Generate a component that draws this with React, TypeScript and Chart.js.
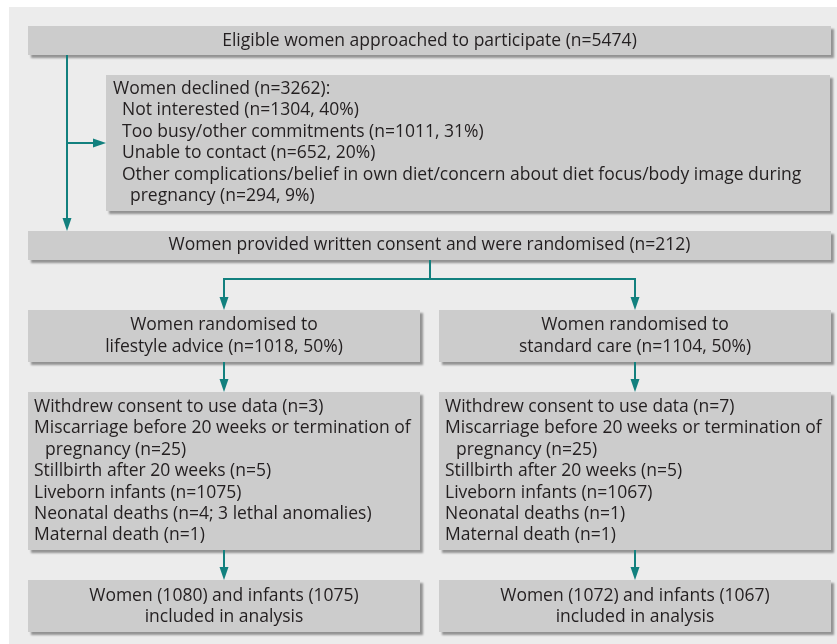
import React, { useEffect, useRef } from "react";
import { Chart, registerables } from "chart.js";

Chart.register(...registerables);

// ---------------- data ----------------
const approachedTotal = 5474;
const declinedTotal = 3262;
const declinedReasons = [
  "Not interested",
  "Too busy/other commitments",
  "Unable to contact",
  "Other complications/belief in own diet/concern about diet focus/body image during",
];
const declinedCounts = [1304, 1011, 652, 294];
const declinedPercents = [40, 31, 20, 9];
const randomisedTotal = 212;
const armNames = ["lifestyle advice", "standard care"];
const armCounts = [1018, 1104];
const armPercents = [50, 50];
const withdrewCounts = [3, 7];
const miscarriageCounts = [25, 25];
const stillbirthCounts = [5, 5];
const livebornCounts = [1075, 1067];
const neonatalDeathNotes = ["n=4; 3 lethal anomalies", "n=1"];
const maternalDeathCounts = [1, 1];
const analysedWomen = [1080, 1072];
const analysedInfants = [1075, 1067];

// ---------------- styles ----------------
const FONT_FAMILY = "'Open Sans', 'Noto Sans', sans-serif";
const FONT_SIZE = 17.5;
const LINE_H = 21.4;
const PANEL_BG = "#ececec";
const BOX_BG = "#cccccc";
const TEXT = "#231f20";
const TEAL = "#12807e";

type Line = { t: string; ind: number };
type Box = {
  x0: number; x1: number; y0: number; y1: number;
  align: "left" | "center";
  firstY: number; // centre of first text line
  textX?: number;
  indents?: number[];
  lines: Line[];
};

function buildBoxes(): Box[] {
  const declinedLines: Line[] = [{ t: `Women declined (n=${declinedTotal}):`, ind: 0 }];
  declinedReasons.forEach((r, i) => {
    const tail = `(n=${declinedCounts[i]}, ${declinedPercents[i]}%)`;
    if (i === declinedReasons.length - 1) {
      declinedLines.push({ t: r, ind: 1 });
      declinedLines.push({ t: `pregnancy ${tail}`, ind: 2 });
    } else {
      declinedLines.push({ t: `${r} ${tail}`, ind: 1 });
    }
  });

  const arm = (i: number): Line[] => [
    { t: `Withdrew consent to use data (n=${withdrewCounts[i]})`, ind: 0 },
    { t: "Miscarriage before 20 weeks or termination of", ind: 0 },
    { t: `pregnancy (n=${miscarriageCounts[i]})`, ind: 1 },
    { t: `Stillbirth after 20 weeks (n=${stillbirthCounts[i]})`, ind: 0 },
    { t: `Liveborn infants (n=${livebornCounts[i]})`, ind: 0 },
    { t: `Neonatal deaths (${neonatalDeathNotes[i]})`, ind: 0 },
    { t: `Maternal death (n=${maternalDeathCounts[i]})`, ind: 0 },
  ];

  const cols = [
    { x0: 28, x1: 420 },
    { x0: 439, x1: 831 },
  ];

  const boxes: Box[] = [
    { x0: 28, x1: 831, y0: 26, y1: 55, align: "center", firstY: 41,
      lines: [{ t: `Eligible women approached to participate (n=${approachedTotal})`, ind: 0 }] },
    { x0: 106, x1: 830, y0: 75, y1: 211, align: "left", firstY: 89, textX: 113, indents: [0, 9, 17],
      lines: declinedLines },
    { x0: 28, x1: 831, y0: 231, y1: 260, align: "center", firstY: 245.5,
      lines: [{ t: `Women provided written consent and were randomised (n=${randomisedTotal})`, ind: 0 }] },
  ];
  cols.forEach((c, i) => {
    boxes.push({ ...c, y0: 310, y1: 362, align: "center", firstY: 325.5,
      lines: [
        { t: "Women randomised to", ind: 0 },
        { t: `${armNames[i]} (n=${armCounts[i]}, ${armPercents[i]}%)`, ind: 0 },
      ] });
    boxes.push({ ...c, y0: 392, y1: 550, align: "left", firstY: 407, textX: c.x0 + 6, indents: [0, 11],
      lines: arm(i) });
    boxes.push({ ...c, y0: 580, y1: 632, align: "center", firstY: 596,
      lines: [
        { t: `Women (${analysedWomen[i]}) and infants (${analysedInfants[i]})`, ind: 0 },
        { t: "included in analysis", ind: 0 },
      ] });
  });
  return boxes;
}

// connectors: polylines, last segment ends with arrow when arrow=true
const connectors: { pts: [number, number][]; arrow: boolean }[] = [
  { pts: [[67, 55], [67, 231]], arrow: true },
  { pts: [[67, 143], [106, 143]], arrow: true },
  { pts: [[430, 260], [430, 279]], arrow: false },
  { pts: [[430, 279], [224, 279], [224, 310]], arrow: true },
  { pts: [[430, 279], [635, 279], [635, 310]], arrow: true },
  { pts: [[224, 362], [224, 392]], arrow: true },
  { pts: [[635, 362], [635, 392]], arrow: true },
  { pts: [[224, 550], [224, 580]], arrow: true },
  { pts: [[635, 550], [635, 580]], arrow: true },
];

const flowPlugin = {
  id: "flow",
  beforeDatasetsDraw(chart: any) {
    const ctx: CanvasRenderingContext2D = chart.ctx;
    const xs = chart.scales.x;
    const ys = chart.scales.y;
    const px = (v: number) => xs.getPixelForValue(v);
    const py = (v: number) => ys.getPixelForValue(v);

    ctx.save();
    // panel
    ctx.fillStyle = PANEL_BG;
    ctx.fillRect(px(9), py(7), px(837) - px(9), py(644) - py(7));

    const boxes = buildBoxes();
    // boxes with shadow
    boxes.forEach((b) => {
      ctx.save();
      ctx.shadowColor = "rgba(0,0,0,0.38)";
      ctx.shadowOffsetX = 3;
      ctx.shadowOffsetY = 3;
      ctx.shadowBlur = 2;
      ctx.fillStyle = BOX_BG;
      ctx.fillRect(px(b.x0), py(b.y0), px(b.x1) - px(b.x0), py(b.y1) - py(b.y0));
      ctx.restore();
    });

    // text
    ctx.fillStyle = TEXT;
    ctx.font = `${FONT_SIZE}px ${FONT_FAMILY}`;
    ctx.textBaseline = "middle";
    boxes.forEach((b) => {
      b.lines.forEach((ln, i) => {
        const y = py(b.firstY + i * LINE_H);
        if (b.align === "center") {
          ctx.textAlign = "center";
          ctx.fillText(ln.t, px((b.x0 + b.x1) / 2), y);
        } else {
          ctx.textAlign = "left";
          const off = (b.indents || [0])[ln.ind] || 0;
          ctx.fillText(ln.t, px((b.textX || b.x0) + off), y);
        }
      });
    });

    // connectors
    ctx.strokeStyle = TEAL;
    ctx.fillStyle = TEAL;
    ctx.lineWidth = 2;
    connectors.forEach((c) => {
      const pts = c.pts.map(([x, y]) => [px(x), py(y)]);
      const n = pts.length;
      const [ex, ey] = pts[n - 1];
      const [sx, sy] = pts[n - 2];
      const ang = Math.atan2(ey - sy, ex - sx);
      const headL = 13;
      const headW = 4.5;
      ctx.beginPath();
      ctx.moveTo(pts[0][0], pts[0][1]);
      for (let i = 1; i < n; i++) {
        if (i === n - 1 && c.arrow) {
          ctx.lineTo(ex - Math.cos(ang) * headL, ey - Math.sin(ang) * headL);
        } else {
          ctx.lineTo(pts[i][0], pts[i][1]);
        }
      }
      ctx.stroke();
      if (c.arrow) {
        const bx = ex - Math.cos(ang) * headL;
        const by = ey - Math.sin(ang) * headL;
        ctx.beginPath();
        ctx.moveTo(ex, ey);
        ctx.lineTo(bx - Math.sin(ang) * headW, by + Math.cos(ang) * headW);
        ctx.lineTo(bx + Math.sin(ang) * headW, by - Math.cos(ang) * headW);
        ctx.closePath();
        ctx.fill();
      }
    });
    ctx.restore();
  },
};

export default function App() {
  const ref = useRef<HTMLCanvasElement | null>(null);
  useEffect(() => {
    document.body.style.margin = "0";
    document.body.style.background = "#ffffff";
    if (!ref.current) return;
    const chart = new Chart(ref.current, {
      type: "scatter",
      data: { datasets: [{ data: [], pointRadius: 0 }] },
      options: {
        animation: false,
        responsive: false,
        maintainAspectRatio: false,
        layout: { padding: 0 },
        plugins: { legend: { display: false }, tooltip: { enabled: false } },
        events: [],
        scales: {
          x: { type: "linear", min: 0, max: 837, display: false },
          y: { type: "linear", min: 0, max: 644, reverse: true, display: false },
        },
      },
      plugins: [flowPlugin],
    });
    return () => chart.destroy();
  }, []);
  return (
    <div style={{ width: 837, height: 644 }}>
      <canvas ref={ref} width={837} height={644} style={{ display: "block" }} />
    </div>
  );
}
